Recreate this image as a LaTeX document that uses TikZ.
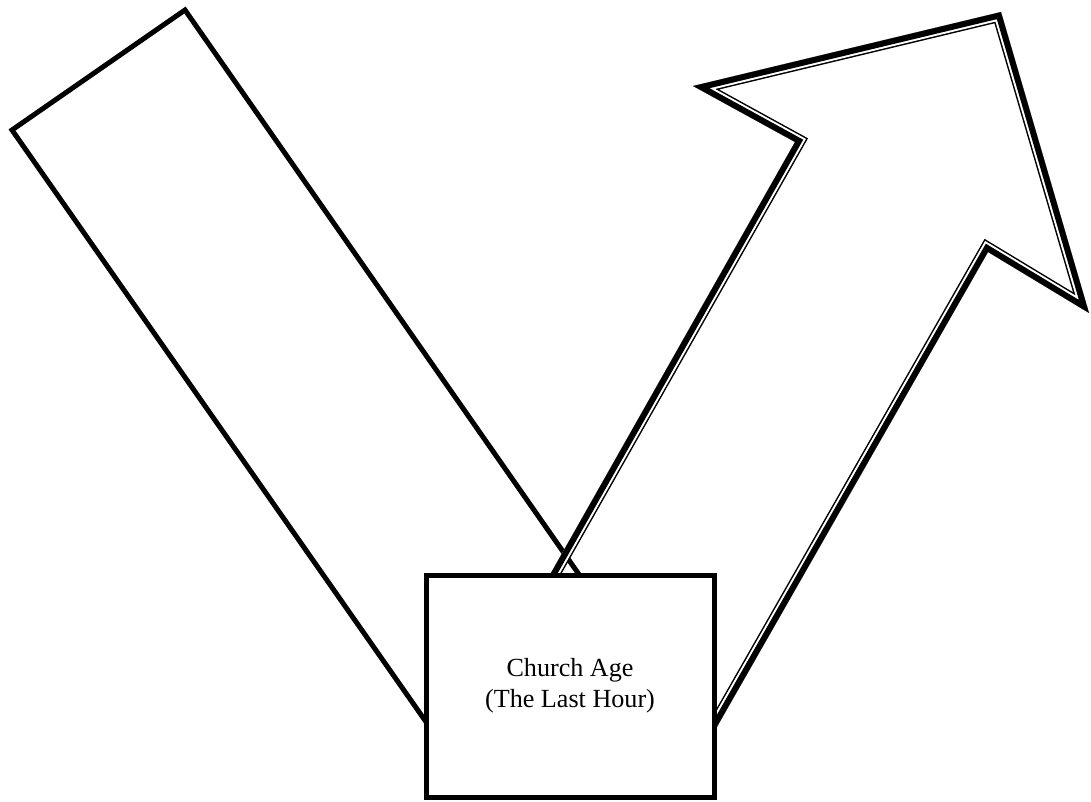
\documentclass[tikz,border=0pt]{standalone}
\usepackage{fontspec}
\setmainfont{Liberation Serif}
\usetikzlibrary{calc}
\def\wRegular{3.75pt}
\definecolor{cInk}{HTML}{000000}
\tikzset{
  era/.style={draw=cInk, line width=\wRegular, line join=miter},
  agebox/.style={draw=cInk, line width=\wRegular, fill=white, minimum width=216pt,
    minimum height=166.5pt, align=center, font=\fontsize{19.6}{23}\selectfont},
}
% arrow outline (outer edge), pixel units
\def\risepath{(693,86) -- (1001,12) -- (1089,313) -- (988,252) -- (698,760) -- (445,760) -- (795,142) -- cycle}

\begin{document}
\begin{tikzpicture}[x=0.75pt, y=-0.75pt]
\useasboundingbox (0,0) rectangle (1091,801);

% tilted band on the left
\draw[era] (12,130) -- (185,10) -- (631,649) -- (459,769) -- cycle;

% rising arrow: thick outer rule, thin inner rule (strokes clipped to the inside)
\begin{scope}
  \clip \risepath;
  \draw[cInk, line width=14.25pt, line join=miter] \risepath;
  \draw[white, line width=12pt, line join=miter] \risepath;
  \draw[cInk, line width=9pt, line join=miter] \risepath;
\end{scope}

% centre box
\node[agebox] (church) at (570,686) {Church Age\\(The Last Hour)};
\end{tikzpicture}
\end{document}
